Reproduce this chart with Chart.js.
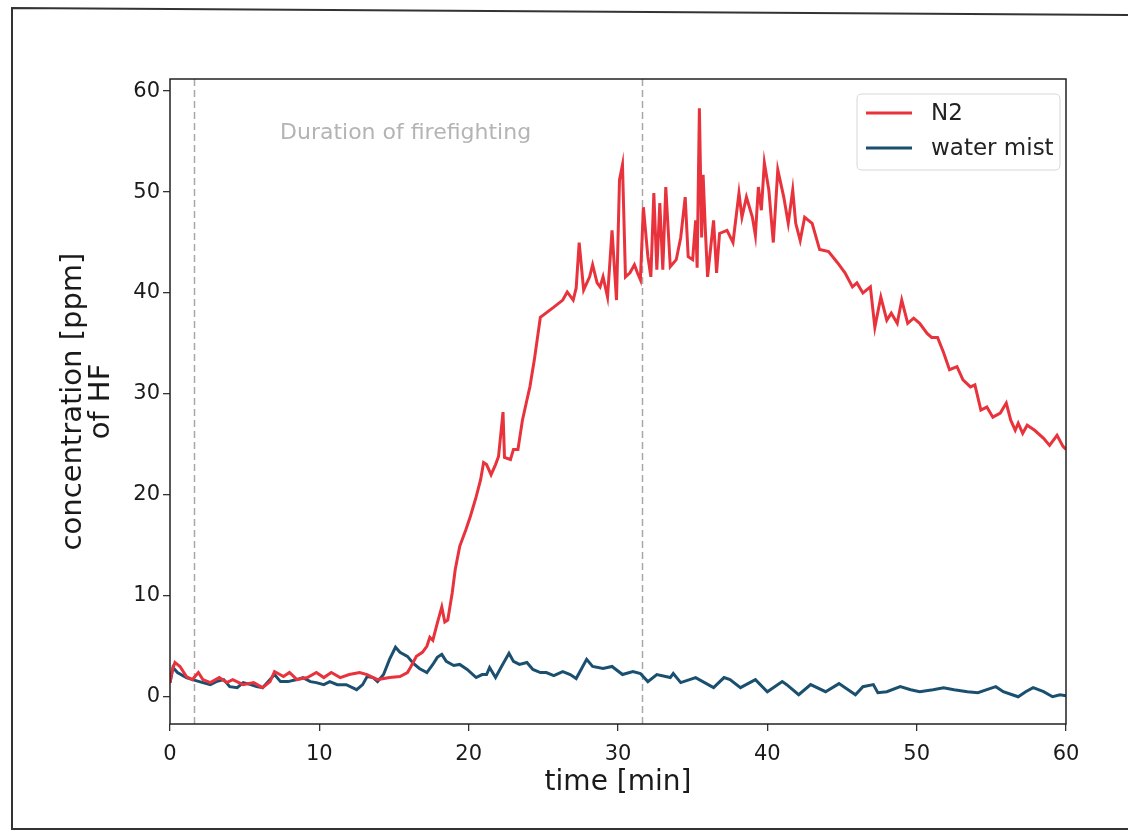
<!DOCTYPE html>
<html>
<head>
<meta charset="utf-8">
<script src="https://cdn.jsdelivr.net/npm/chart.js@4.4.1/dist/chart.umd.min.js"></script>
<style>
  html, body { margin: 0; padding: 0; background: #fff; }
  #wrap { width: 1128px; height: 832px; position: relative; }
  canvas { display: block; }
</style>
</head>
<body>
<div id="wrap"><canvas id="c" width="1128" height="832"></canvas></div>
<script>
// ---- data (time in min, concentration in ppm) ----
const n2Time = [0.0,0.15,0.33,0.67,1.1,1.5,1.9,2.2,2.7,3.3,3.8,4.2,4.9,5.6,6.2,6.7,7.0,7.6,8.0,8.5,9.2,9.8,10.3,10.8,11.4,12.0,12.7,13.2,13.9,14.7,15.4,15.9,16.1,16.5,16.9,17.2,17.4,17.6,17.9,18.2,18.4,18.6,18.9,19.1,19.4,19.8,20.1,20.3,20.5,20.8,21.0,21.2,21.5,21.8,22.0,22.3,22.4,22.8,23.0,23.3,23.6,23.9,24.1,24.4,24.8,25.7,26.3,26.6,27.0,27.2,27.4,27.7,28.1,28.3,28.6,28.8,29.0,29.3,29.6,29.9,30.1,30.3,30.5,30.8,31.1,31.3,31.5,31.7,32.0,32.2,32.4,32.6,32.8,33.0,33.2,33.5,33.9,34.2,34.5,34.7,35.0,35.2,35.3,35.45,35.6,35.7,35.85,36.0,36.4,36.6,36.8,37.3,37.7,38.1,38.3,38.6,39.0,39.2,39.4,39.6,39.8,40.1,40.4,40.7,41.1,41.4,41.7,41.9,42.2,42.5,43.0,43.5,44.1,44.7,45.2,45.7,46.0,46.4,46.9,47.2,47.6,48.0,48.3,48.7,49.0,49.4,49.8,50.2,50.7,51.0,51.4,51.8,52.2,52.7,53.1,53.6,53.9,54.3,54.7,55.1,55.6,56.0,56.3,56.6,56.8,57.1,57.4,57.9,58.5,58.9,59.4,59.8,60.0];
const n2Values = [1.4,2.6,3.4,3.0,2.0,1.7,2.4,1.7,1.4,1.9,1.4,1.7,1.2,1.4,0.9,1.5,2.5,2.0,2.4,1.7,1.9,2.4,1.9,2.4,1.9,2.2,2.4,2.2,1.7,1.9,2.0,2.4,2.9,4.0,4.4,5.0,5.9,5.6,7.3,8.9,7.4,7.6,10.3,12.6,14.9,16.5,17.8,18.8,19.8,21.5,23.2,23.0,22.0,23.0,23.8,28.2,23.7,23.5,24.5,24.5,27.4,29.4,30.7,33.4,37.6,38.6,39.3,40.1,39.3,40.5,45.0,40.3,41.6,42.8,41.0,40.6,41.6,39.6,46.2,39.3,51.2,52.7,41.6,42.0,42.8,42.0,41.3,48.5,43.6,41.6,49.9,42.3,48.9,42.3,50.5,42.6,43.3,45.5,49.5,43.6,43.3,47.2,42.5,58.3,45.5,51.7,46.2,41.6,47.2,42.0,45.9,46.2,45.0,49.9,47.5,49.5,47.5,45.7,50.5,48.2,52.9,50.2,45.0,52.2,49.5,46.9,50.2,46.9,45.2,47.5,46.9,44.3,44.1,43.0,42.0,40.6,41.0,40.0,40.6,36.6,39.6,37.3,38.0,37.0,39.3,37.0,37.5,37.0,36.0,35.6,35.6,34.1,32.4,32.7,31.4,30.7,30.9,28.4,28.7,27.7,28.1,29.1,27.4,26.4,27.1,26.1,26.9,26.4,25.6,24.9,25.9,24.8,24.5];

const mistTime = [0.0,0.2,0.5,1.1,1.5,2.2,2.7,3.1,3.6,4.0,4.5,4.9,5.4,5.8,6.2,6.7,7.0,7.4,7.9,8.5,8.9,9.4,9.8,10.3,10.7,11.2,11.8,12.5,12.9,13.2,13.6,13.9,14.3,14.7,15.1,15.4,15.9,16.3,16.7,17.2,17.6,17.9,18.2,18.5,19.0,19.4,19.9,20.5,20.9,21.2,21.4,21.8,22.2,22.7,23.0,23.4,23.9,24.3,24.8,25.2,25.7,26.3,26.8,27.2,27.9,28.3,29.0,29.6,30.3,31.0,31.5,32.0,32.6,33.5,33.7,34.2,35.2,36.4,37.1,37.5,38.2,39.2,40.0,41.0,41.3,42.1,42.9,43.9,44.8,45.9,46.4,47.1,47.4,48.0,48.9,49.6,50.2,51.1,51.8,52.5,53.4,54.1,54.7,55.3,55.8,56.4,56.8,57.3,57.8,58.5,59.1,59.6,60.0];
const mistValues = [1.4,2.9,2.4,1.9,1.7,1.4,1.2,1.5,1.7,1.0,0.9,1.4,1.2,1.0,0.9,1.7,2.2,1.5,1.5,1.7,1.9,1.5,1.4,1.2,1.5,1.2,1.2,0.7,1.2,2.0,1.9,1.5,2.2,3.7,4.9,4.4,4.0,3.3,2.8,2.4,3.2,3.9,4.2,3.5,3.1,3.2,2.7,1.9,2.2,2.2,2.9,1.9,3.0,4.3,3.5,3.2,3.4,2.7,2.4,2.4,2.1,2.5,2.2,1.8,3.7,3.0,2.8,3.0,2.2,2.5,2.3,1.5,2.2,1.9,2.3,1.4,1.9,0.9,1.9,1.7,0.9,1.7,0.5,1.5,1.2,0.2,1.2,0.5,1.3,0.2,1.0,1.2,0.4,0.5,1.0,0.7,0.5,0.7,0.9,0.7,0.5,0.4,0.7,1.0,0.5,0.2,0.0,0.5,0.9,0.5,0.0,0.2,0.1];

const seriesLabels = ["N2", "water mist"];
const xTickValues = [0, 10, 20, 30, 40, 50, 60];
const yTickValues = [0, 10, 20, 30, 40, 50, 60];
const firefightingStart = 1.6;
const firefightingEnd = 31.6;
const annotationText = "Duration of firefighting";
const xTitle = "time [min]";
const yTitle = ["concentration [ppm]", "of HF"];

// ---- styling ----
const RED = "#e8333d";
const BLUE = "#1b4f70";
const FONT = "'DejaVu Sans', 'Liberation Sans', sans-serif";

const toXY = (ts, vs) => ts.map((t, i) => ({ x: t, y: vs[i] }));

const decorPlugin = {
  id: 'decor',
  beforeDatasetsDraw(chart) {
    const { ctx, chartArea: a, scales: { x } } = chart;
    ctx.save();
    ctx.strokeStyle = '#a8a8a8';
    ctx.lineWidth = 1.5;
    ctx.setLineDash([7, 4]);
    [firefightingStart, firefightingEnd].forEach(v => {
      const px = Math.round(x.getPixelForValue(v)) + 0.5;
      ctx.beginPath();
      ctx.moveTo(px, a.top);
      ctx.lineTo(px, a.bottom);
      ctx.stroke();
    });
    ctx.setLineDash([]);
    ctx.fillStyle = '#b4b4b4';
    ctx.font = "22px " + FONT;
    ctx.textBaseline = 'middle';
    ctx.textAlign = 'left';
    ctx.fillText(annotationText, 280, 133);
    ctx.restore();
  },
  afterDraw(chart) {
    const { ctx, chartArea: a } = chart;
    ctx.save();
    // plot frame
    ctx.strokeStyle = '#222';
    ctx.lineWidth = 1.5;
    ctx.strokeRect(a.left, a.top, a.right - a.left, a.bottom - a.top);

    // legend
    const bx = 857, by = 94, bw = 203, bh = 76, r = 5;
    ctx.beginPath();
    ctx.moveTo(bx + r, by);
    ctx.lineTo(bx + bw - r, by);
    ctx.quadraticCurveTo(bx + bw, by, bx + bw, by + r);
    ctx.lineTo(bx + bw, by + bh - r);
    ctx.quadraticCurveTo(bx + bw, by + bh, bx + bw - r, by + bh);
    ctx.lineTo(bx + r, by + bh);
    ctx.quadraticCurveTo(bx, by + bh, bx, by + bh - r);
    ctx.lineTo(bx, by + r);
    ctx.quadraticCurveTo(bx, by, bx + r, by);
    ctx.closePath();
    ctx.fillStyle = 'rgba(255,255,255,0.85)';
    ctx.fill();
    ctx.strokeStyle = '#d6d6d6';
    ctx.lineWidth = 1;
    ctx.stroke();
    chart.data.datasets.forEach((ds, i) => {
      const y = 113 + i * 35;
      ctx.strokeStyle = ds.borderColor;
      ctx.lineWidth = 3;
      ctx.beginPath();
      ctx.moveTo(866, y);
      ctx.lineTo(912, y);
      ctx.stroke();
      ctx.fillStyle = '#222';
      ctx.font = "23px " + FONT;
      ctx.textBaseline = 'middle';
      ctx.textAlign = 'left';
      ctx.fillText(ds.label, 931, y + 1);
    });

    // page border
    ctx.strokeStyle = '#333';
    ctx.lineWidth = 2;
    ctx.beginPath();
    ctx.moveTo(1128, 15);
    ctx.lineTo(12, 8);
    ctx.lineTo(12, 829);
    ctx.lineTo(1128, 829);
    ctx.stroke();
    ctx.restore();
  }
};

new Chart(document.getElementById('c'), {
  type: 'line',
  data: {
    datasets: [
      { label: seriesLabels[0], data: toXY(n2Time, n2Values), borderColor: RED, backgroundColor: RED,
        borderWidth: 3, pointRadius: 0, tension: 0, fill: false },
      { label: seriesLabels[1], data: toXY(mistTime, mistValues), borderColor: BLUE, backgroundColor: BLUE,
        borderWidth: 3, pointRadius: 0, tension: 0, fill: false }
    ]
  },
  options: {
    responsive: false,
    animation: false,
    devicePixelRatio: 1,
    layout: { padding: { left: 0, right: 62, top: 79, bottom: 0 } },
    plugins: { legend: { display: false }, tooltip: { enabled: false } },
    scales: {
      x: {
        type: 'linear', min: 0, max: 60,
        afterBuildTicks: s => { s.ticks = xTickValues.map(v => ({ value: v })); },
        afterFit: s => { s.height = 108; },
        grid: { display: true, drawOnChartArea: false, drawTicks: true, tickLength: 7, color: '#333', lineWidth: 1.3 },
        border: { display: false },
        ticks: { color: '#1a1a1a', font: { family: FONT, size: 21 }, padding: 11, maxRotation: 0 },
        title: { display: true, text: xTitle, color: '#1a1a1a', font: { family: FONT, size: 28, lineHeight: 1.0 }, padding: { top: 0, bottom: 35 } }
      },
      y: {
        type: 'linear', min: -2.7, max: 61.2,
        afterBuildTicks: s => { s.ticks = yTickValues.map(v => ({ value: v })); },
        afterFit: s => { s.width = 170; },
        grid: { display: true, drawOnChartArea: false, drawTicks: true, tickLength: 7, color: '#333', lineWidth: 1.3 },
        border: { display: false },
        ticks: { color: '#1a1a1a', font: { family: FONT, size: 21 }, padding: 3 },
        title: { display: true, text: yTitle, color: '#1a1a1a', font: { family: FONT, size: 29, lineHeight: 0.95 }, padding: { top: 60, bottom: 0 } }
      }
    }
  },
  plugins: [decorPlugin]
});
</script>
</body>
</html>
